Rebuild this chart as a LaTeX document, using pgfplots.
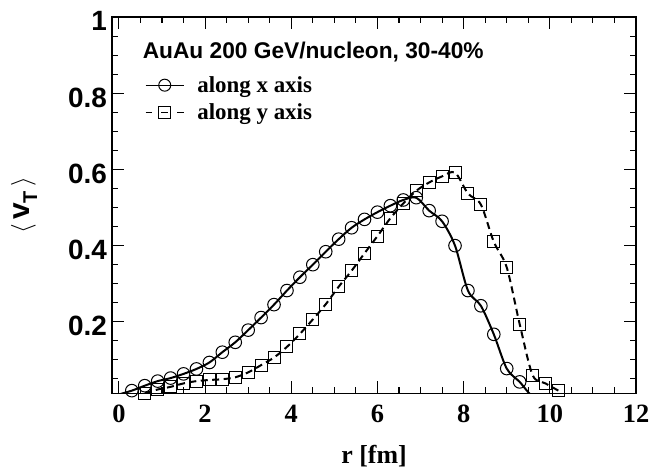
\documentclass[border=0pt]{standalone}
\usepackage{fontspec}
\setmainfont{Liberation Serif}
\newfontfamily\hv{Liberation Sans}
\usepackage{pgfplots}
\usepackage{pgfplotstable}
\pgfplotsset{compat=1.18}

\pgfplotstableread{
x y
0.3 0.019
0.6 0.032
0.9 0.044
1.2 0.052
1.5 0.063
1.8 0.076
2.1 0.093
2.4 0.120
2.7 0.146
3.0 0.178
3.3 0.211
3.6 0.245
3.9 0.282
4.2 0.317
4.5 0.350
4.8 0.384
5.1 0.417
5.4 0.447
5.7 0.469
6.0 0.488
6.3 0.505
6.6 0.520
6.9 0.526
7.2 0.492
7.5 0.464
7.8 0.400
8.1 0.282
8.4 0.242
8.7 0.167
9.0 0.077
9.3 0.042
}\circdata

\pgfplotstableread{
x y
0.0 0.009
0.3 0.019
0.6 0.032
0.9 0.044
1.2 0.052
1.5 0.063
1.8 0.076
2.1 0.093
2.4 0.120
2.7 0.146
3.0 0.178
3.3 0.211
3.6 0.245
3.9 0.282
4.2 0.317
4.5 0.350
4.8 0.384
5.1 0.417
5.4 0.447
5.7 0.469
6.0 0.488
6.3 0.505
6.6 0.520
6.9 0.526
7.2 0.492
7.5 0.464
7.8 0.400
8.1 0.282
8.4 0.242
8.7 0.167
9.0 0.077
9.3 0.042
9.6 0.004
9.9 0.0
10.2 0.0
12.0 0.0
}\circline

\pgfplotstableread{
x y
0.6 0.012
0.9 0.022
1.2 0.029
1.5 0.038
1.8 0.044
2.1 0.047
2.4 0.049
2.7 0.054
3.0 0.067
3.3 0.086
3.6 0.106
3.9 0.134
4.2 0.168
4.5 0.206
4.8 0.246
5.1 0.292
5.4 0.334
5.7 0.380
6.0 0.425
6.3 0.472
6.6 0.511
6.9 0.544
7.2 0.566
7.5 0.582
7.8 0.592
8.1 0.537
8.4 0.508
8.7 0.410
9.0 0.343
9.3 0.194
9.6 0.060
9.9 0.038
10.2 0.019
}\sqdata

\pgfplotstableread{
x y
0.6 0.012
0.9 0.022
1.2 0.029
1.5 0.038
1.8 0.044
2.1 0.047
2.4 0.049
2.7 0.054
3.0 0.067
3.3 0.086
3.6 0.106
3.9 0.134
4.2 0.168
4.5 0.206
4.8 0.246
5.1 0.292
5.4 0.334
5.7 0.380
6.0 0.425
6.3 0.472
6.6 0.511
6.9 0.544
7.2 0.566
7.5 0.582
7.8 0.592
8.1 0.537
8.4 0.508
8.7 0.410
9.0 0.343
9.3 0.194
9.6 0.060
9.9 0.038
10.2 0.019
10.5 0.0
12.0 0.0
}\sqline

\begin{document}
\begin{tikzpicture}
\begin{axis}[name=ax, scale only axis, width=524bp, height=376bp,
  xmin=-0.16, xmax=12, ymin=0.012, ymax=1,
  xtick={0,2,4,6,8,10,12}, ytick={0,0.2,0.4,0.6,0.8,1},
  minor x tick num=3, minor y tick num=3,
  major tick length=12bp, minor tick length=6bp,
  tick style={line width=1.1bp, black},
  axis line style={line width=1.6bp},
  /pgf/number format/assume math mode=true,
  xticklabel style={font=\bfseries\fontsize{26.5}{26.5}\selectfont, anchor=base, yshift=-28.8bp, inner sep=0pt},
  yticklabel style={font=\hv\bfseries\fontsize{28}{28}\selectfont, anchor=east, inner sep=0pt, xshift=-5bp, yshift=-4bp},
  legend image code/.code={\draw[mark repeat=2,mark phase=2,#1] plot coordinates {(0bp,0bp) (19bp,0bp) (38bp,0bp)};},
  legend style={draw=none, fill=none, inner sep=0pt, at={(axis cs:0.603,0.845)}, anchor=north west,
    row sep=10bp, column sep=13bp, nodes={inner sep=0pt, font=\bfseries\fontsize{23}{23}\selectfont}},
  legend cell align=left,
]
\addplot[black, line width=2bp, smooth, tension=0.5, forget plot] table {\circline};
\addplot[black, only marks, mark=o, mark size=6.3bp, mark options={line width=1bp}, forget plot] table {\circdata};
\addplot[black, line width=2bp, dash pattern=on 7bp off 4.5bp, smooth, tension=0.5, forget plot] table {\sqline};
\addplot[black, only marks, mark=square, mark size=6bp, mark options={line width=1bp, solid}, forget plot] table {\sqdata};

\addlegendimage{black, line width=1.3bp, mark=o, mark size=6bp, mark options={line width=1bp}}
\addlegendentry{along x axis}
\addlegendimage{black, line width=1.3bp, dash pattern=on 6.5bp off 9.25bp, mark=square, mark size=6bp, mark options={line width=1bp, solid}}
\addlegendentry{along y axis}

\node[anchor=base west, inner sep=0pt, font=\hv\bfseries\fontsize{22.8}{22.8}\selectfont] at (axis cs:0.55,0.891) {AuAu 200 GeV/nucleon, 30-40\%};
\end{axis}
\node[rotate=90, anchor=center, inner sep=0pt, font=\hv\bfseries\fontsize{30}{30}\selectfont] at ([xshift=-88bp]ax.west) {$\langle$\hspace{4bp}v\raisebox{-0.25em}{\fontsize{20}{20}\selectfont T}\hspace{4bp}$\rangle$};
\node[anchor=base, inner sep=0pt, font=\bfseries\fontsize{26}{26}\selectfont] at ([yshift=-70bp]ax.south) {r [fm]};
\pgfresetboundingbox
\path[use as bounding box] ([shift={(-112bp,-76.7bp)}]ax.south west) rectangle ++(650bp,470bp);
\end{tikzpicture}
\end{document}
